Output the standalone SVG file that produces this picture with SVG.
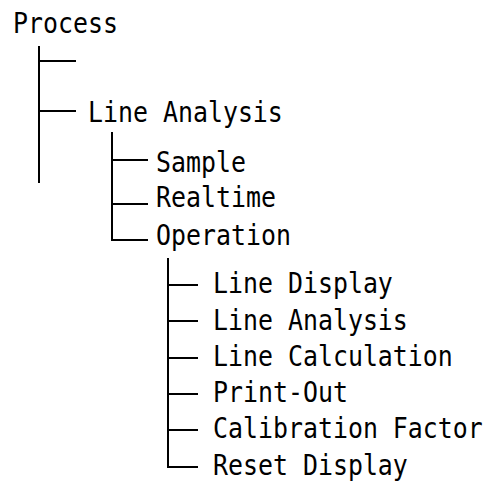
<svg xmlns="http://www.w3.org/2000/svg" width="490" height="484" viewBox="0 0 490 484">
<style>
text{font-family:"DejaVu Sans Mono","Liberation Mono",monospace;font-size:24.9px;fill:#000}
.c{stroke:#000;stroke-width:2;fill:none;stroke-linecap:butt}
</style>
<rect width="490" height="484" fill="#fff"/>
<g id="connectors" class="c">
<path d="M39 46V183M39 61H76M39 111H76"/>
<path d="M112 132V240H148M112 160H148M112 204H148"/>
<path d="M168 258V467H198M168 285H198M168 321H198M168 358H198M168 394H198M168 430H198"/>
</g>
<g id="process"><text transform="translate(13 33) scale(1 1.15)">Process</text></g>
<g id="line-analysis"><text transform="translate(88 122) scale(1 1.15)">Line Analysis</text></g>
<g id="sample"><text transform="translate(156 172) scale(1 1.15)">Sample</text></g>
<g id="realtime"><text transform="translate(156 207) scale(1 1.15)">Realtime</text></g>
<g id="operation"><text transform="translate(156 245) scale(1 1.15)">Operation</text></g>
<g id="line-display"><text transform="translate(213 293) scale(1 1.15)">Line Display</text></g>
<g id="line-analysis-2"><text transform="translate(213 330) scale(1 1.15)">Line Analysis</text></g>
<g id="line-calculation"><text transform="translate(213 366) scale(1 1.15)">Line Calculation</text></g>
<g id="print-out"><text transform="translate(213 402) scale(1 1.15)">Print-Out</text></g>
<g id="calibration-factor"><text transform="translate(213 438) scale(1 1.15)">Calibration Factor</text></g>
<g id="reset-display"><text transform="translate(213 475) scale(1 1.15)">Reset Display</text></g>
</svg>
